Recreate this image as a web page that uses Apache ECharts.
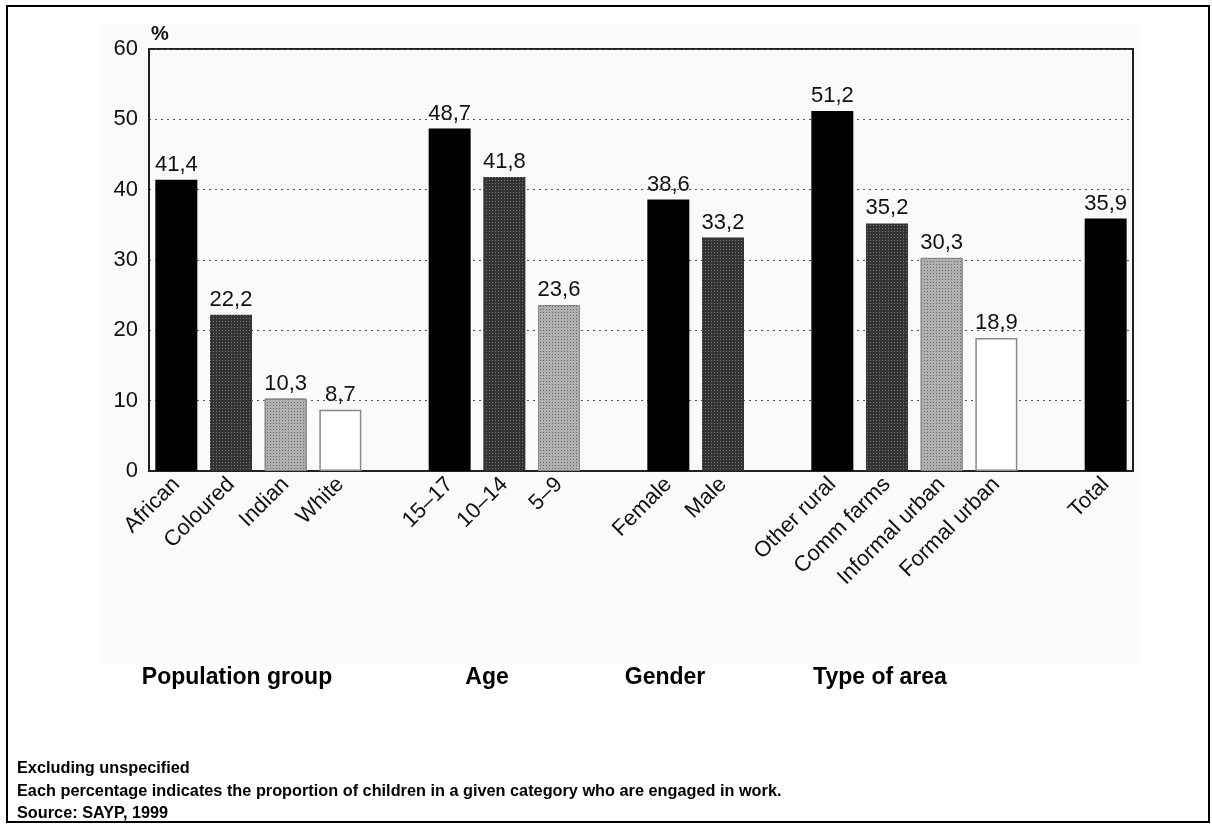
<!DOCTYPE html>
<html>
<head>
<meta charset="utf-8">
<script src="https://cdn.jsdelivr.net/npm/echarts@6/dist/echarts.min.js"></script>
<style>
  html, body { margin: 0; padding: 0; background: #fff; }
  #chart { width: 1212px; height: 825px; }
</style>
</head>
<body>
<div id="chart"></div>
<script>
// bar categories, blanks are the gaps between groups
const categories = ['African', 'Coloured', 'Indian', 'White', '',
    '15–17', '10–14', '5–9', '',
    'Female', 'Male', '',
    'Other rural', 'Comm farms', 'Informal urban', 'Formal urban', '',
    'Total']
const values = [41.4, 22.2, 10.3, 8.7, null,
    48.7, 41.8, 23.6, null,
    38.6, 33.2, null,
    51.2, 35.2, 30.3, 18.9, null,
    35.9]
const shades = ['black', 'dark', 'light', 'white', null,
    'black', 'dark', 'light', null,
    'black', 'dark', null,
    'black', 'dark', 'light', 'white', null,
    'black']
const yTicks = [0, 10, 20, 30, 40, 50, 60]
const groupNames = ['Population group', 'Age', 'Gender', 'Type of area']
const notes = [
    'Excluding unspecified',
    'Each percentage indicates the proportion of children in a given category who are engaged in work.',
    'Source: SAYP, 1999',
]

const FONT = 'Liberation Sans, Arial, sans-serif'

const shadeStyle = {
    black: { color: '#000' },
    dark: {
        color: '#333',
        decal: { symbol: 'rect', symbolSize: 1, color: '#777', dashArrayX: [1, 2], dashArrayY: [1, 2] },
    },
    light: {
        color: '#b0b0b0',
        decal: { symbol: 'rect', symbolSize: 1, color: '#666', dashArrayX: [1, 2], dashArrayY: [1, 2] },
        borderColor: '#888', borderWidth: 1,
    },
    white: { color: '#fff', borderColor: '#8a8a8a', borderWidth: 1.5 },
}

const barData = values.map((v, i) => {
    if (v === null) return '-'
    return { value: v, itemStyle: shadeStyle[shades[i]] }
})

const chart = echarts.init(document.getElementById('chart'))

const groupX = [237, 487, 665, 880]

const option = {
    animation: false,
    backgroundColor: '#fff',
    grid: {
        left: 149, right: 79, top: 49, bottom: 354,
        show: true, borderColor: '#222', borderWidth: 2, backgroundColor: 'transparent',
    },
    xAxis: {
        type: 'category',
        data: categories,
        axisLine: { show: true, lineStyle: { color: '#222', width: 2 } },
        axisTick: { show: false },
        axisLabel: {
            interval: 0, rotate: 45, fontSize: 22, color: '#111',
            fontFamily: FONT, margin: 10,
        },
    },
    yAxis: {
        type: 'value',
        min: yTicks[0], max: yTicks[yTicks.length - 1], interval: 10,
        name: '%',
        nameLocation: 'end',
        nameGap: 5,
        nameTextStyle: {
            fontSize: 20, fontWeight: 'bold', color: '#111', align: 'left',
            fontFamily: FONT, padding: [0, 0, 0, 2],
        },
        axisLine: { show: true, lineStyle: { color: '#222', width: 2 } },
        axisTick: { show: false },
        axisLabel: {
            fontSize: 22, color: '#111', margin: 11,
            fontFamily: FONT,
        },
        splitLine: { show: true, lineStyle: { type: [2, 4], color: '#555', width: 1.2 } },
    },
    series: [{
        type: 'bar',
        data: barData,
        barWidth: 42,
        label: {
            show: true, position: 'top', distance: 4,
            fontSize: 22, color: '#111',
            fontFamily: FONT,
            formatter: p => String(p.value).replace('.', ','),
        },
    }],
    graphic: [
        {
            type: 'rect', z: -10, silent: true,
            shape: { x: 100, y: 24, width: 1040, height: 639 },
            style: { fill: '#fafafa' },
        },
        {
            type: 'rect', z: 10, silent: true,
            shape: { x: 7, y: 6, width: 1202, height: 816 },
            style: { fill: 'none', stroke: '#000', lineWidth: 2 },
        },
        ...groupNames.map((t, i) => ({
            type: 'text', x: groupX[i], y: 678,
            style: {
                text: t, fill: '#000',
                font: 'bold 23px ' + FONT,
                textAlign: 'center', textVerticalAlign: 'middle',
            },
        })),
        ...notes.map((t, i) => ({
            type: 'text', x: 17, y: 769 + i * 22.5,
            style: {
                text: t, fill: '#000',
                font: 'bold 16.3px ' + FONT,
                textVerticalAlign: 'middle',
            },
        })),
    ],
}

chart.setOption(option)
</script>
</body>
</html>
